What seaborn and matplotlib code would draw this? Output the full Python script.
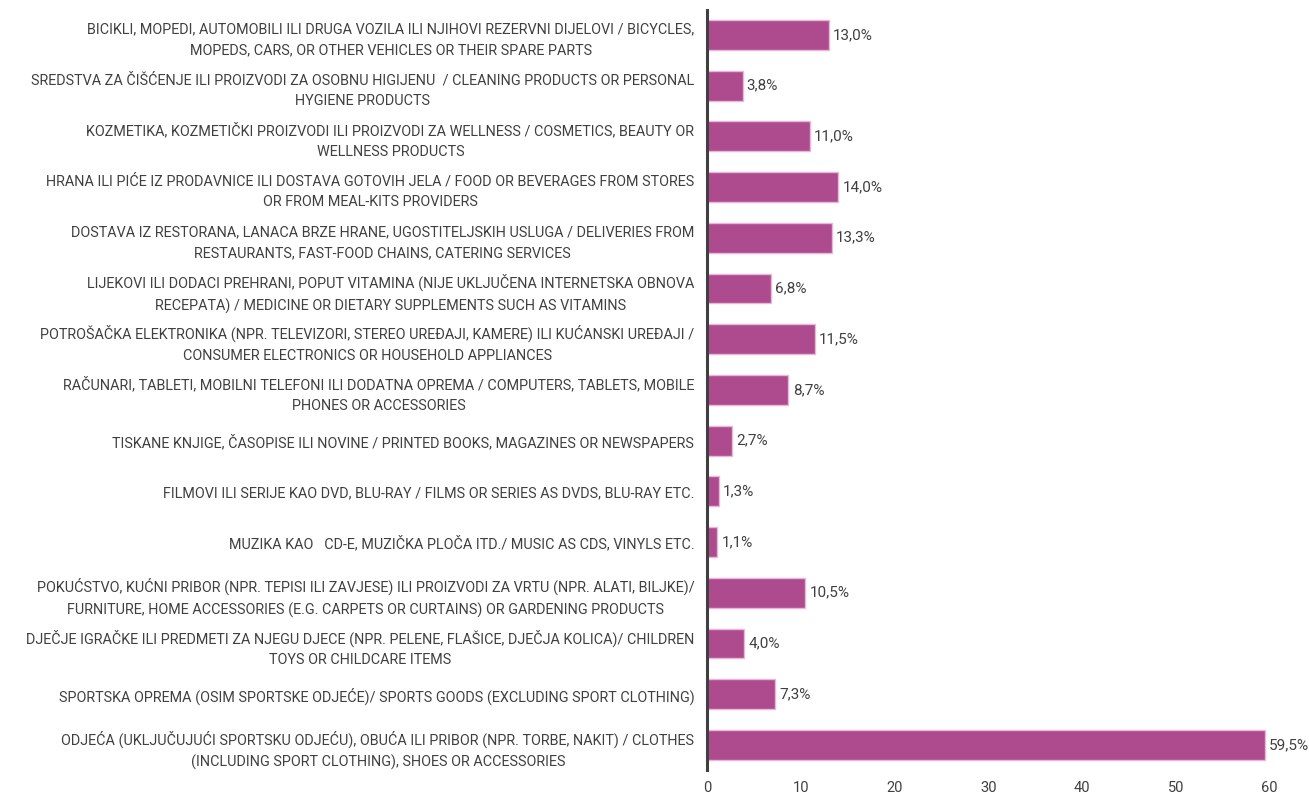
import matplotlib
matplotlib.use("Agg")
import matplotlib.pyplot as plt
import seaborn as sns
import pandas as pd
from matplotlib import font_manager

categories = [
    "BICIKLI, MOPEDI, AUTOMOBILI ILI DRUGA VOZILA ILI NJIHOVI REZERVNI DIJELOVI / BICYCLES,\nMOPEDS, CARS, OR OTHER VEHICLES OR THEIR SPARE PARTS",
    "SREDSTVA ZA ČIŠĆENJE ILI PROIZVODI ZA OSOBNU HIGIJENU  / CLEANING PRODUCTS OR PERSONAL\nHYGIENE PRODUCTS",
    "KOZMETIKA, KOZMETIČKI PROIZVODI ILI PROIZVODI ZA WELLNESS / COSMETICS, BEAUTY OR\nWELLNESS PRODUCTS",
    "HRANA ILI PIĆE IZ PRODAVNICE ILI DOSTAVA GOTOVIH JELA / FOOD OR BEVERAGES FROM STORES\nOR FROM MEAL-KITS PROVIDERS",
    "DOSTAVA IZ RESTORANA, LANACA BRZE HRANE, UGOSTITELJSKIH USLUGA / DELIVERIES FROM\nRESTAURANTS, FAST-FOOD CHAINS, CATERING SERVICES",
    "LIJEKOVI ILI DODACI PREHRANI, POPUT VITAMINA (NIJE UKLJUČENA INTERNETSKA OBNOVA\nRECEPATA) / MEDICINE OR DIETARY SUPPLEMENTS SUCH AS VITAMINS",
    "POTROŠAČKA ELEKTRONIKA (NPR. TELEVIZORI, STEREO UREĐAJI, KAMERE) ILI KUĆANSKI UREĐAJI /\nCONSUMER ELECTRONICS OR HOUSEHOLD APPLIANCES",
    "RAČUNARI, TABLETI, MOBILNI TELEFONI ILI DODATNA OPREMA / COMPUTERS, TABLETS, MOBILE\nPHONES OR ACCESSORIES",
    "TISKANE KNJIGE, ČASOPISE ILI NOVINE / PRINTED BOOKS, MAGAZINES OR NEWSPAPERS",
    "FILMOVI ILI SERIJE KAO DVD, BLU-RAY / FILMS OR SERIES AS DVDS, BLU-RAY ETC.",
    "MUZIKA KAO   CD-E, MUZIČKA PLOČA ITD./ MUSIC AS CDS, VINYLS ETC.",
    "POKUĆSTVO, KUĆNI PRIBOR (NPR. TEPISI ILI ZAVJESE) ILI PROIZVODI ZA VRTU (NPR. ALATI, BILJKE)/\nFURNITURE, HOME ACCESSORIES (E.G. CARPETS OR CURTAINS) OR GARDENING PRODUCTS",
    "DJEČJE IGRAČKE ILI PREDMETI ZA NJEGU DJECE (NPR. PELENE, FLAŠICE, DJEČJA KOLICA)/ CHILDREN\nTOYS OR CHILDCARE ITEMS",
    "SPORTSKA OPREMA (OSIM SPORTSKE ODJEĆE)/ SPORTS GOODS (EXCLUDING SPORT CLOTHING)",
    "ODJEĆA (UKLJUČUJUĆI SPORTSKU ODJEĆU), OBUĆA ILI PRIBOR (NPR. TORBE, NAKIT) / CLOTHES\n(INCLUDING SPORT CLOTHING), SHOES OR ACCESSORIES",
]
values = [13.0, 3.8, 11.0, 14.0, 13.3, 6.8, 11.5, 8.7, 2.7, 1.3, 1.1, 10.5, 4.0, 7.3, 59.5]
x_ticks = [0, 10, 20, 30, 40, 50, 60]

df = pd.DataFrame({"category": categories, "value": values})

sns.set_style("white")
names = {f.name for f in font_manager.fontManager.ttflist}
fam = ["Liberation Sans Narrow", "DejaVu Sans"] if "Liberation Sans Narrow" in names else ["Roboto", "DejaVu Sans"]
plt.rcParams["font.family"] = fam
text_color = "#404040"

fig = plt.figure(figsize=(13.09, 7.99), dpi=100)
ax = fig.add_axes([0.540, 0.036, 0.430, 0.952])

sns.barplot(data=df, y="category", x="value", orient="h", color="#AE4A8E",
            saturation=1, width=0.59, edgecolor="#E9B6D8", linewidth=1, ax=ax)

ax.set_xlim(0, 60)
ax.set_ylim(len(categories) - 0.5, -0.5)
ax.set_xticks(x_ticks)
ax.set_xticklabels([str(t) for t in x_ticks], fontsize=10.5, color=text_color)
ax.set_xlabel("")
ax.set_ylabel("")
ax.tick_params(axis="x", length=0, pad=8)
ax.tick_params(axis="y", length=0, pad=9)
for lab in ax.get_yticklabels():
    lab.set_multialignment("center")
    lab.set_fontsize(10.4)
    lab.set_color(text_color)
    lab.set_linespacing(1.6)

for s in ["top", "right", "bottom"]:
    ax.spines[s].set_visible(False)
ax.spines["left"].set_color("#404040")
ax.spines["left"].set_linewidth(2.2)

for i, v in enumerate(values):
    ax.annotate(f"{v:.1f}%".replace(".", ","), xy=(v, i), xytext=(3, 0),
                textcoords="offset points", va="center", ha="left",
                fontsize=11, color=text_color, annotation_clip=False)

fig.savefig("out.png", dpi=100, facecolor="white")
